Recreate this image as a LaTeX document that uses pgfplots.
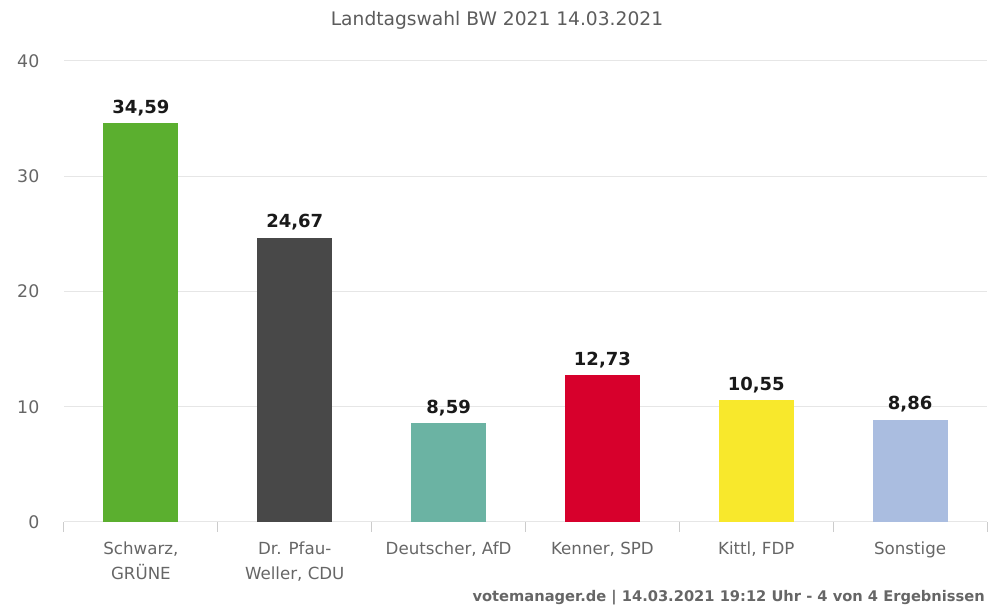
\documentclass[border=0pt]{standalone}
\usepackage{fontspec}
\setmainfont{DejaVu Sans}
\usepackage{pgfplots}
\pgfplotsset{compat=1.18}
\definecolor{cgreen}{HTML}{5BAF2F}
\definecolor{cdark}{HTML}{484848}
\definecolor{cteal}{HTML}{6BB3A3}
\definecolor{cred}{HTML}{D7002C}
\definecolor{cyellow}{HTML}{F8E82C}
\definecolor{cblue}{HTML}{AABDE0}
\definecolor{ctxt}{HTML}{666666}
\definecolor{cgrid}{HTML}{E6E6E6}
\definecolor{caxis}{HTML}{CCCCCC}
\begin{document}
\begin{tikzpicture}
\begin{axis}[
  scale only axis,
  width=692.25pt, height=345.75pt,
  xmin=-0.5, xmax=5.5, ymin=0, ymax=40,
  ytick={0,10,20,30,40},
  xtick={0,1,2,3,4,5},
  xticklabels={{Schwarz,\\GRÜNE},{Dr. Pfau-\\Weller, CDU},{Deutscher, AfD},{Kenner, SPD},{Kittl, FDP},{Sonstige}},
  minor xtick={-0.5,0.5,1.5,2.5,3.5,4.5,5.5},
  major tick length=0pt,
  minor tick length=7.5pt,
  tick align=outside,
  tick pos=left,
  xtick style={draw=none},
  minor x tick style={draw=caxis, line width=0.75pt},
  ytick style={draw=none},
  ymajorgrids,
  grid style={cgrid, line width=0.75pt},
  axis line style={-},
  x axis line style={draw=caxis, line width=0.75pt},
  y axis line style={draw=none},
  /pgf/number format/assume math mode=true,
  yticklabel style={font=\fontsize{13}{15}\selectfont, text=ctxt, xshift=-15pt},
  xticklabel style={font=\fontsize{12.5}{18.75}\selectfont, text=ctxt, align=center, anchor=north, yshift=-11.5pt},
  ybar, bar width=56.25pt, bar shift=0pt,
  nodes near coords,
  every node near coord/.append style={font=\fontsize{13.5}{15}\bfseries\selectfont, text=black!90, yshift=2pt},
  nodes near coords style={/pgf/number format/.cd, fixed, fixed zerofill, precision=2, use comma, assume math mode=true},
  clip=false,
]
\addplot[fill=cgreen, draw=none] coordinates {(0,34.59)};
\addplot[fill=cdark, draw=none] coordinates {(1,24.67)};
\addplot[fill=cteal, draw=none] coordinates {(2,8.59)};
\addplot[fill=cred, draw=none] coordinates {(3,12.73)};
\addplot[fill=cyellow, draw=none] coordinates {(4,10.55)};
\addplot[fill=cblue, draw=none] coordinates {(5,8.86)};
\coordinate (sw) at (rel axis cs:0,0);
\coordinate (se) at (rel axis cs:1,0);
\end{axis}
\path (sw) ++(-48pt,-65.25pt) rectangle ++(746.25pt,456.75pt);
\node[font=\fontsize{14}{16}\selectfont, text=ctxt!90!black] at ([xshift=324.75pt, yshift=376.5pt]sw) {Landtagswahl BW 2021 14.03.2021};
\node[font=\fontsize{11}{13}\bfseries\selectfont, text=ctxt, anchor=east, inner sep=0pt] at ([xshift=-1.5pt, yshift=-57pt]se) {votemanager.de | 14.03.2021 19:12 Uhr - 4 von 4 Ergebnissen};
\end{tikzpicture}
\end{document}
